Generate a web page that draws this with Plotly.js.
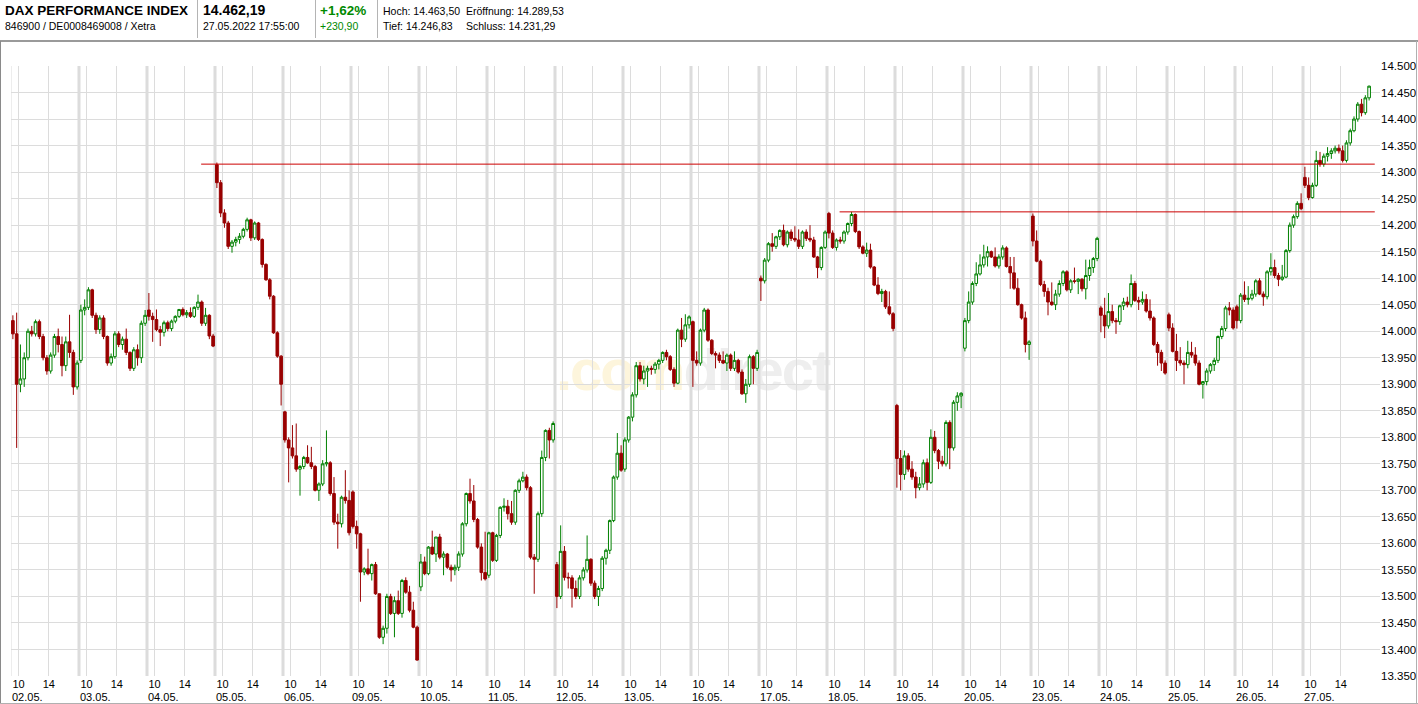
<!DOCTYPE html>
<html>
<head>
<meta charset="utf-8">
<script src="https://cdn.plot.ly/plotly-3.0.1.min.js"></script>
<style>
  html, body { margin:0; padding:0; background:#fff; }
  #wrap { position:relative; width:1418px; height:704px; overflow:hidden; background:#fff;
          font-family:"Liberation Sans", Arial, sans-serif; color:#000; }
  #wm { position:absolute; left:0; top:0; width:1418px; height:704px; }
  #chart { position:absolute; left:0; top:0; width:1418px; height:704px; }
</style>
</head>
<body>
<div id="wrap">
  <div id="wm"></div>
  <div id="chart"></div>
</div>
<script>
// ---------- header / info texts ----------
const instrumentName = 'DAX PERFORMANCE INDEX';
const instrumentIds = '846900 / DE0008469008 / Xetra';
const lastPrice = '14.462,19';
const lastTime = '27.05.2022 17:55:00';
const changePct = '+1,62%';
const changeAbs = '+230,90';
const infoLabels = ['Hoch: 14.463,50', 'Eröffnung: 14.289,53', 'Tief: 14.246,83', 'Schluss: 14.231,29'];

// ---------- categories ----------
const days = ['02.05.','03.05.','04.05.','05.05.','06.05.','09.05.','10.05.','11.05.','12.05.','13.05.',
              '16.05.','17.05.','18.05.','19.05.','20.05.','23.05.','24.05.','25.05.','26.05.','27.05.'];
const slots = ['09:00','09:30','10:00','10:30','11:00','11:30','12:00','12:30','13:00',
               '13:30','14:00','14:30','15:00','15:30','16:00','16:30','17:00','17:30'];
const hourTicks = [10, 14];
const hourTickText = ['10', '14'];

// ---------- 30-minute candles, one row per trading day ----------
const open = [
 14020,13995,13900,13910,13950,14000,13995,14018,13990,13950,13925,13955,13990,13975,13935,13980,13960,13895,
 13945,14040,14045,14078,14030,14003,14025,13990,13940,13952,13995,13975,13985,13960,13930,13965,13950,14015,
 14040,14028,14022,14003,13998,14016,14005,14019,14028,14041,14031,14035,14028,14045,14055,14015,14030,13991,
 14314,14280,14223,14204,14160,14168,14173,14179,14192,14210,14176,14204,14173,14126,14097,14066,13997,13953,
 13848,13795,13780,13765,13740,13745,13762,13752,13745,13700,13712,13750,13752,13694,13640,13637,13687,13681,
 13697,13632,13618,13546,13552,13543,13560,13505,13423,13440,13500,13468,13492,13468,13530,13508,13474,13442,
 13518,13565,13543,13593,13580,13612,13574,13580,13555,13550,13555,13580,13637,13694,13680,13645,13593,13545,
 13540,13620,13568,13615,13668,13670,13656,13640,13700,13718,13725,13705,13574,13570,13656,13762,13813,13795,
 13560,13500,13585,13536,13535,13515,13500,13535,13550,13570,13525,13500,13515,13572,13587,13643,13725,13770,
 13740,13795,13838,13880,13935,13910,13925,13930,13928,13938,13945,13960,13952,13928,13902,14002,13985,14012,
 14018,13945,13940,14002,14040,13983,13958,13955,13945,13940,13955,13930,13945,13923,13882,13900,13952,13930,
 14100,14095,14134,14165,14160,14178,14190,14163,14187,14175,14172,14160,14187,14175,14172,14140,14120,14158,
 14222,14185,14158,14172,14170,14187,14203,14220,14188,14159,14147,14153,14121,14087,14071,14075,14046,14033,
 13860,13760,13730,13765,13740,13725,13705,13712,13752,13715,13800,13775,13755,13750,13828,13780,13866,13878,
 13968,14020,14055,14090,14108,14125,14140,14150,14140,14123,14140,14157,14122,14110,14081,14050,14025,13975,
 14217,14170,14132,14088,14075,14055,14050,14070,14090,14112,14078,14095,14094,14098,14080,14105,14120,14137,
 14044,14030,14010,14037,14020,14018,14048,14055,14050,14090,14058,14055,14060,14038,14025,13975,13960,13940,
 14031,14006,13962,13945,13940,13937,13960,13955,13940,13900,13905,13925,13937,13945,13990,14005,14044,14040,
 14046,14020,14068,14060,14062,14070,14095,14070,14065,14112,14120,14105,14098,14102,14152,14200,14216,14241,
 14290,14275,14252,14275,14322,14315,14330,14335,14340,14345,14340,14322,14355,14378,14400,14428,14412,14440
];
const high = [
 14030,14035,13975,13960,14005,14010,14022,14022,13995,13955,13960,13995,14005,13990,13990,14031,13965,13945,
 14050,14060,14083,14080,14035,14030,14030,13992,13958,14000,14000,13990,14005,13962,13970,13975,14020,14040,
 14072,14035,14041,14010,14020,14020,14022,14030,14042,14045,14040,14045,14047,14069,14058,14044,14032,13995,
 14318,14285,14230,14208,14172,14178,14185,14195,14214,14212,14207,14206,14175,14128,14100,14068,14000,13955,
 13850,13800,13823,13826,13748,13765,13785,13782,13748,13715,13757,13813,13755,13725,13656,13690,13738,13700,
 13700,13643,13620,13555,13590,13562,13565,13505,13445,13505,13505,13500,13511,13533,13536,13520,13490,13445,
 13580,13575,13595,13624,13612,13618,13585,13582,13560,13560,13585,13640,13696,13722,13710,13648,13600,13622,
 13622,13622,13618,13670,13685,13682,13680,13702,13722,13735,13730,13708,13580,13660,13775,13815,13818,13830,
 13565,13634,13595,13545,13540,13530,13540,13555,13615,13572,13530,13520,13576,13590,13645,13728,13808,13785,
 13800,13840,13885,13942,13942,13935,13935,13935,13942,13948,13962,13965,13955,13932,14005,14025,14032,14030,
 14020,13962,14005,14044,14043,13985,13962,13960,13962,13958,13958,13962,13948,13928,13910,13956,13955,13965,
 14105,14138,14168,14185,14180,14192,14201,14190,14192,14198,14192,14190,14192,14200,14178,14142,14160,14190,
 14225,14190,14175,14178,14190,14205,14225,14222,14190,14162,14167,14165,14123,14102,14080,14078,14075,14036,
 13863,13776,13775,13770,13755,13735,13725,13758,13760,13815,13812,13778,13765,13832,13832,13870,13885,13885,
 14025,14075,14094,14130,14145,14163,14160,14152,14158,14145,14162,14160,14140,14140,14100,14052,14037,13983,
 14222,14190,14135,14095,14082,14092,14078,14096,14115,14115,14098,14120,14100,14100,14135,14135,14140,14178,
 14048,14063,14072,14050,14025,14050,14063,14065,14107,14095,14065,14075,14070,14060,14028,13980,13965,13945,
 14035,14015,13995,13970,13945,13982,13980,13970,13945,13906,13930,13940,13950,13992,14010,14048,14055,14045,
 14050,14072,14094,14085,14078,14098,14100,14075,14115,14147,14135,14110,14125,14155,14205,14220,14245,14260,
 14310,14290,14280,14340,14338,14335,14347,14345,14350,14352,14350,14360,14382,14405,14432,14438,14445,14463
];
const low = [
 13985,13780,13885,13895,13945,13990,13990,13985,13945,13918,13920,13950,13960,13915,13925,13950,13880,13890,
 13940,14030,14040,14025,13995,13995,13985,13935,13935,13948,13970,13965,13955,13925,13925,13935,13940,14010,
 14020,13980,14000,13972,13990,14000,14000,14015,14025,14028,14025,14025,14025,14040,14010,14010,13985,13970,
 14270,14215,14195,14155,14148,14160,14165,14175,14188,14170,14172,14170,14120,14095,14060,13995,13950,13860,
 13790,13715,13760,13735,13690,13740,13750,13740,13698,13680,13708,13745,13690,13635,13590,13630,13675,13615,
 13628,13590,13490,13540,13540,13530,13503,13420,13410,13430,13465,13423,13465,13460,13505,13470,13440,13379,
 13510,13540,13540,13578,13565,13570,13540,13552,13528,13540,13548,13575,13632,13675,13640,13590,13530,13530,
 13535,13565,13565,13610,13660,13645,13635,13635,13695,13715,13700,13570,13505,13565,13650,13755,13760,13790,
 13478,13495,13530,13515,13479,13495,13495,13530,13545,13520,13495,13482,13510,13560,13580,13640,13720,13735,
 13735,13790,13830,13875,13905,13900,13895,13918,13920,13928,13940,13945,13925,13895,13900,13970,13980,14005,
 13895,13935,13935,13998,13980,13955,13930,13940,13938,13925,13925,13925,13920,13880,13865,13895,13900,13925,
 14057,14090,14130,14150,14155,14172,14160,14158,14170,14168,14155,14155,14170,14168,14138,14100,14115,14155,
 14175,14155,14152,14165,14165,14182,14198,14185,14155,14145,14140,14118,14085,14068,14055,14042,14030,14000,
 13705,13700,13720,13735,13720,13685,13700,13705,13700,13712,13770,13740,13745,13745,13740,13775,13850,13855,
 13962,14015,14050,14085,14105,14120,14122,14138,14120,14118,14135,14120,14080,14078,14048,14022,13960,13946,
 14160,14130,14085,14065,14030,14048,14040,14065,14085,14075,14072,14090,14070,14075,14060,14095,14110,14132,
 13998,13987,14005,14015,13995,14012,14040,14045,14045,14055,14040,14050,14035,14020,13972,13935,13925,13918,
 14000,13960,13925,13935,13900,13930,13950,13935,13898,13873,13898,13920,13925,13940,13985,14000,14030,14003,
 14005,14015,14055,14050,14058,14065,14068,14048,14060,14105,14100,14085,14095,14100,14148,14195,14212,14228,
 14270,14247,14250,14272,14310,14310,14320,14325,14335,14335,14318,14318,14350,14375,14395,14405,14408,14435
];
const close = [
 13995,13900,13910,13950,14000,13995,14018,13990,13950,13925,13955,13990,13975,13935,13980,13960,13895,13940,
 14040,14045,14078,14030,14003,14025,13990,13940,13952,13995,13975,13985,13960,13930,13965,13950,14015,14030,
 14028,14022,14003,13998,14016,14005,14019,14028,14041,14031,14035,14028,14045,14055,14015,14030,13991,13972,
 14280,14223,14204,14160,14168,14173,14179,14192,14210,14176,14204,14173,14126,14097,14066,13997,13953,13900,
 13795,13780,13765,13740,13745,13762,13752,13745,13700,13712,13750,13752,13694,13640,13637,13687,13681,13620,
 13632,13618,13546,13552,13543,13560,13505,13423,13440,13500,13468,13492,13468,13530,13508,13474,13442,13380,
 13565,13543,13593,13580,13612,13574,13580,13555,13550,13555,13580,13637,13694,13680,13645,13593,13545,13533,
 13620,13568,13615,13668,13670,13656,13640,13700,13718,13725,13705,13574,13570,13656,13762,13813,13795,13826,
 13500,13585,13536,13535,13515,13500,13535,13550,13570,13525,13500,13515,13572,13587,13643,13725,13770,13738,
 13795,13838,13880,13935,13910,13925,13930,13928,13938,13945,13960,13952,13928,13902,14002,13985,14012,14027,
 13945,13940,14002,14040,13983,13958,13955,13945,13940,13955,13930,13945,13923,13882,13900,13952,13930,13960,
 14095,14134,14165,14160,14178,14190,14163,14187,14175,14172,14160,14187,14175,14172,14140,14120,14158,14187,
 14185,14158,14172,14170,14187,14203,14220,14188,14159,14147,14153,14121,14087,14071,14075,14046,14033,14005,
 13760,13730,13765,13740,13725,13705,13712,13752,13715,13800,13775,13755,13750,13828,13780,13866,13878,13883,
 14020,14055,14090,14108,14125,14140,14150,14140,14123,14140,14157,14122,14110,14081,14050,14025,13975,13980,
 14170,14132,14088,14075,14055,14050,14070,14090,14112,14078,14095,14094,14098,14080,14105,14120,14137,14175,
 14030,14010,14037,14020,14018,14048,14055,14050,14090,14058,14055,14060,14038,14025,13975,13960,13940,13921,
 14006,13962,13945,13940,13937,13960,13955,13940,13900,13905,13925,13937,13945,13990,14005,14044,14040,14006,
 14020,14068,14060,14062,14070,14095,14070,14065,14112,14120,14105,14098,14102,14152,14200,14216,14241,14231,
 14275,14252,14275,14322,14315,14330,14335,14340,14345,14340,14322,14355,14378,14400,14428,14412,14440,14462
];

// user-drawn horizontal resistance lines: level, start (day, time), end (day, time)
const lineLevels = [14315, 14225];
const lineStartDay = ['04.05.', '18.05.'];
const lineStartTime = ['16:10', '10:40'];
const lineEndDay = ['27.05.', '27.05.'];
const lineEndTime = ['18:30', '18:30'];

// ---------- helpers: trading-time axis (9 hours per session, 09:00-18:00) ----------
const SESSION_START = 9, SESSION_LEN = 9;
function toH(t) { const p = t.split(':'); return +p[0] + (+p[1]) / 60; }
function axisPos(dayIdx, time) { return dayIdx * SESSION_LEN + (toH(time) - SESSION_START); }

const xs = [];
days.forEach((d, di) => slots.forEach(s => xs.push(axisPos(di, s) + 0.25)));

const tickvals = [], ticktext = [];
days.forEach((d, di) => hourTicks.forEach((h, j) => {
  tickvals.push(di * SESSION_LEN + (h - SESSION_START)); ticktext.push(hourTickText[j]);
}));

const GRID = '#dcdcdc';
const shapes = [];
days.forEach((d, di) => {
  shapes.push({type:'line', xref:'x', yref:'paper', x0:di*SESSION_LEN, x1:di*SESSION_LEN, y0:0, y1:1,
               line:{color:GRID, width: di === 0 ? 1 : 3}, layer:'below'});
});
lineLevels.forEach((lv, i) => {
  shapes.push({type:'line', xref:'x', yref:'y',
    x0: axisPos(days.indexOf(lineStartDay[i]), lineStartTime[i]),
    x1: axisPos(days.indexOf(lineEndDay[i]), lineEndTime[i]),
    y0: lv, y1: lv, line:{color:'#cc0000', width:1}, layer:'above'});
});

// plot-area geometry in page pixels
const W = 1418, H = 704, PL = 11, PR = 1380, PT = 66, PB = 676;
const px2x = px => (px - PL) / (PR - PL);
const px2y = py => (PB - py) / (PB - PT);

const annotations = days.map((d, di) => ({
  xref:'x', yref:'paper', x: di * SESSION_LEN, y: px2y(697), text: d, showarrow:false,
  xanchor:'left', yanchor:'middle', font:{size:11, color:'#000'}, borderpad:0
}));

// header texts as annotations in paper coordinates
function hdr(text, px, py, size, bold, color) {
  return {xref:'paper', yref:'paper', x:px2x(px), y:px2y(py), xanchor:'left', yanchor:'middle',
          showarrow:false, borderpad:0,
          text: bold ? '<b>' + text + '</b>' : text,
          font:{size:size, color:color || '#000', family:'"Liberation Sans", Arial, sans-serif'}};
}
annotations.push(hdr(instrumentName, 4, 10, 13.5, true));
annotations.push(hdr(instrumentIds, 4, 26, 10.5, false));
annotations.push(hdr(lastPrice, 202, 10, 14, true));
annotations.push(hdr(lastTime, 202, 26, 10.5, false));
annotations.push(hdr(changePct, 319, 10, 13.5, true, '#008a00'));
annotations.push(hdr(changeAbs, 319, 26, 10.5, false, '#008a00'));
annotations.push(hdr(infoLabels[0], 382, 11, 10.5, false));
annotations.push(hdr(infoLabels[1], 465, 11, 10.5, false));
annotations.push(hdr(infoLabels[2], 382, 26, 10.5, false));
annotations.push(hdr(infoLabels[3], 465, 26, 10.5, false));

// header separators and chart frame (paper coordinates)
function pline(x0, y0, x1, y1, color, width) {
  return {type:'line', xref:'paper', yref:'paper', x0:px2x(x0), x1:px2x(x1), y0:px2y(y0), y1:px2y(y1),
          line:{color:color, width:width}, layer:'above'};
}
[197, 315, 377].forEach(x => shapes.push(pline(x + 0.5, 0, x + 0.5, 38, '#b4b4b4', 1)));
shapes.push(pline(0, 41, 1418, 41, '#9a9a9a', 2));
shapes.push(pline(0.5, 41, 0.5, 704, '#8a8a8a', 1));
shapes.push(pline(1416.5, 41, 1416.5, 704, '#b0b0b0', 1));
shapes.push(pline(0, 703.5, 1418, 703.5, '#b0b0b0', 1));

// watermark behind the chart
document.getElementById('wm').innerHTML =
  '<div style="position:absolute;left:556px;top:336px;font:bold 58px \'Liberation Sans\',Arial,sans-serif;letter-spacing:-2px;white-space:nowrap">' +
  '<span style="color:#fdf5dc">.com</span><span style="color:#eeeeee">direct</span></div>';

const trace = {
  type:'candlestick', x: xs, open: open, high: high, low: low, close: close,
  increasing: {line:{color:'#008000', width:1}, fillcolor:'#ffffff'},
  decreasing: {line:{color:'#990000', width:1}, fillcolor:'#990000'},
  whiskerwidth: 0, hoverinfo:'skip'
};

const layout = {
  width: W, height: H,
  margin: {l: PL, r: W - PR, t: PT, b: H - PB, pad: 0},
  paper_bgcolor:'rgba(0,0,0,0)', plot_bgcolor:'rgba(0,0,0,0)',
  font: {family:'"Liberation Sans", Arial, sans-serif', size:11, color:'#000'},
  separators: ',.',
  showlegend: false,
  boxgap: 0,
  xaxis: {
    range: [0, (PR - PL) / 68 * SESSION_LEN], type:'linear',
    tickmode:'array', tickvals: tickvals, ticktext: ticktext,
    showgrid:true, gridcolor:GRID, gridwidth:1, zeroline:false, showline:false, ticks:'',
    tickfont:{size:11, color:'#000'}, rangeslider:{visible:false}, fixedrange:true
  },
  yaxis: {
    side:'right', range:[13350, 14500], tick0:13350, dtick:50, tickformat:',.0f',
    showgrid:true, gridcolor:GRID, gridwidth:1, zeroline:false, showline:false, ticks:'',
    tickfont:{size:11.5, color:'#000'}, fixedrange:true
  },
  shapes: shapes,
  annotations: annotations
};

Plotly.newPlot('chart', [trace], layout, {displayModeBar:false, staticPlot:true});
</script>
</body>
</html>
